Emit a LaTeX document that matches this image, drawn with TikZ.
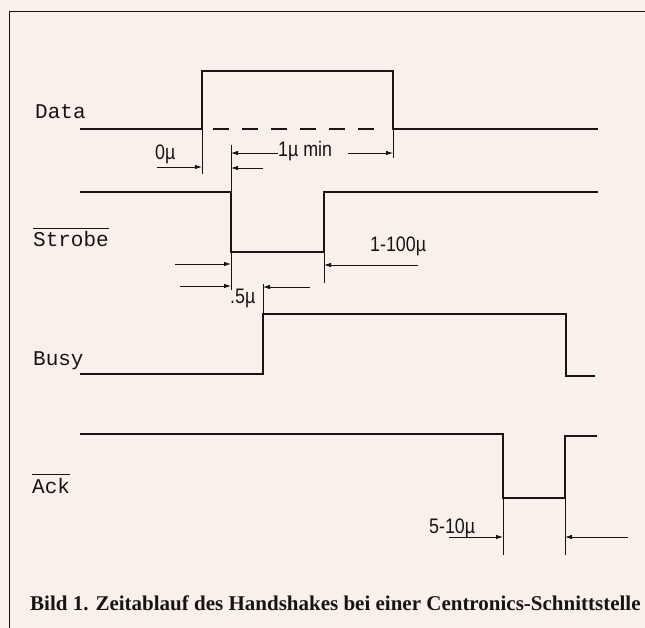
\documentclass[tikz,border=0pt]{standalone}
\usepackage{fontspec}
\setmainfont{Liberation Serif}
\newfontfamily\labelfont{Liberation Mono}
\newfontfamily\timefont[FakeStretch=0.85]{Liberation Sans}
\usetikzlibrary{arrows.meta}
\definecolor{paper}{RGB}{248,240,235}
\definecolor{ink}{RGB}{25,20,20}
\tikzset{
  signal/.style={ink,line width=2pt},
  guide/.style={ink,line width=0.9pt},
  dimarrow/.style={ink,line width=0.8pt,-{Latex[length=7pt,width=4.5pt]}},
  signame/.style={ink,font=\labelfont\fontsize{21}{21}\selectfont,anchor=base west,inner sep=0pt},
  timing/.style={ink,font=\timefont\fontsize{21}{21}\selectfont,anchor=base west,inner sep=0pt}
}
\begin{document}
\begin{tikzpicture}[x=1pt,y=-1pt]
\useasboundingbox (0,0) rectangle (645,628);
\fill[paper] (0,0) rectangle (645,628);
% frame
\draw[guide] (9,628) -- (9,11) -- (645,11);

% signal names
\node[signame] (data) at (35,119) {Data};
\node[signame] (strobe) at (33,247) {Strobe};
\node[signame] (busy) at (33,365) {Busy};
\node[signame] (ack) at (32,493) {Ack};
\draw[guide] ([yshift=3pt]strobe.north west) -- ([yshift=3pt]strobe.north east);
\draw[guide] ([yshift=3pt]ack.north west) -- ([yshift=3pt]ack.north east);

% Data
\draw[signal] (80,129) -- (202,129) -- (202,71) -- (393,71) -- (393,129) -- (598,129);
\draw[signal,dash pattern=on 16pt off 13pt] (213,129) -- (385,129);
\draw[guide] (202,129) -- (202,174);
\draw[guide] (393,129) -- (393,158);

% Strobe
\draw[signal] (80,192) -- (231,192) -- (231,252) -- (324,252) -- (324,192) -- (598,192);
\draw[guide] (231,145) -- (231,192);
\draw[guide] (231,252) -- (231,290);
\draw[guide] (324,252) -- (324,283);

% Busy
\draw[signal] (80,374) -- (263,374) -- (263,314) -- (566,314) -- (566,376) -- (595,376);
\draw[guide] (263,284) -- (263,314);

% Ack
\draw[signal] (80,434) -- (503,434) -- (503,498) -- (565,498) -- (565,436) -- (597,436);
\draw[guide] (503,498) -- (503,555);
\draw[guide] (565,498) -- (565,555);

% times
\node[timing] (t0) at (155,160) {0µ};
\draw[dimarrow] (157,167) -- (202,167);
\draw[dimarrow] (263,168) -- (231,168);

\node[timing] (t1) at (278,157) {1µ min};
\draw[dimarrow] (t1.west |- 0,153) -- (231,153);
\draw[dimarrow] (348,153) -- (393,153);

\node[timing] (t5) at (230,304) {.5µ};
\draw[dimarrow] (175,264) -- (231,264);
\draw[dimarrow] (180,286) -- (231,286);
\draw[dimarrow] (310,287) -- (263,287);

\node[timing] (t100) at (370,252) {1-100µ};
\draw[dimarrow] (418,265) -- (324,265);

\node[timing] (t10) at (429,533) {5-10µ};
\draw[dimarrow] (449,537) -- (503,537);
\draw[dimarrow] (628,537) -- (565,537);

% caption
\node[ink,font=\bfseries\fontsize{21}{21}\selectfont,anchor=base west,inner sep=0pt] (caption) at (30,610)
  {Bild 1. Zeitablauf des Handshakes bei einer Centronics-Schnittstelle};
\end{tikzpicture}
\end{document}
